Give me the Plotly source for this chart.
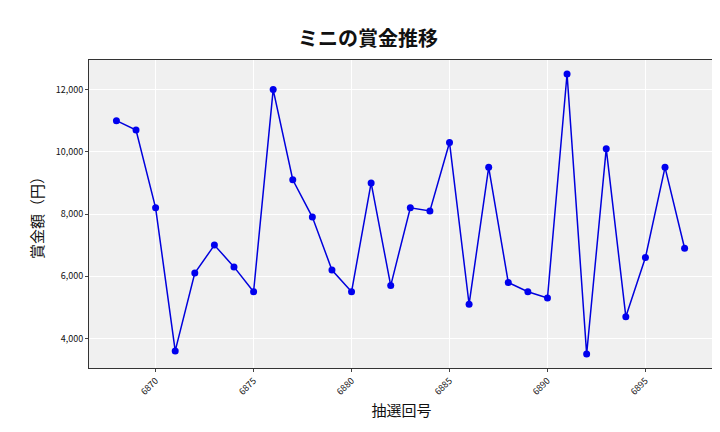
import plotly.graph_objects as go

draws = list(range(6868, 6898))
prizes = [11000, 10700, 8200, 3600, 6100, 7000, 6300, 5500, 12000, 9100,
          7900, 6200, 5500, 9000, 5700, 8200, 8100, 10300, 5100, 9500,
          5800, 5500, 5300, 12500, 3500, 10100, 4700, 6600, 9500, 6900]

fig = go.Figure(go.Scatter(x=draws, y=prizes, mode="lines+markers",
                           line=dict(color="#0000dd", width=1.5),
                           marker=dict(color="#0000ee", size=7)))
font = "Noto Sans CJK JP"
fig.update_layout(
    width=720, height=432, paper_bgcolor="white", plot_bgcolor="#f0f0f0",
    margin=dict(l=81, r=14, t=52, b=72, autoexpand=False),
    title=dict(text="<b>ミニの賞金推移</b>", x=0.5, y=0.945, xanchor="center",
               font=dict(family=font, size=20, color="#111")),
    font=dict(family=font, color="#111"),
    showlegend=False,
)
fig.update_xaxes(title=dict(text="抽選回号", font=dict(size=15), standoff=8),
                 tickvals=[6870, 6875, 6880, 6885, 6890, 6895], tickangle=-45,
                 tickfont=dict(size=9, color="#111"), gridcolor="white", showline=True,
                 linecolor="#333", mirror=True, ticks="outside", ticklen=3,
                 range=[6866.6, 6898.5], zeroline=False, automargin=False)
fig.update_yaxes(title=dict(text="賞金額（円）", font=dict(size=15), standoff=8),
                 tickvals=[4000, 6000, 8000, 10000, 12000], tickformat=",",
                 tickfont=dict(size=9, color="#111"), gridcolor="white", showline=True,
                 linecolor="#333", mirror=True, ticks="outside", ticklen=3,
                 range=[3050, 12950], zeroline=False, automargin=False)
fig.write_html("out.html")
